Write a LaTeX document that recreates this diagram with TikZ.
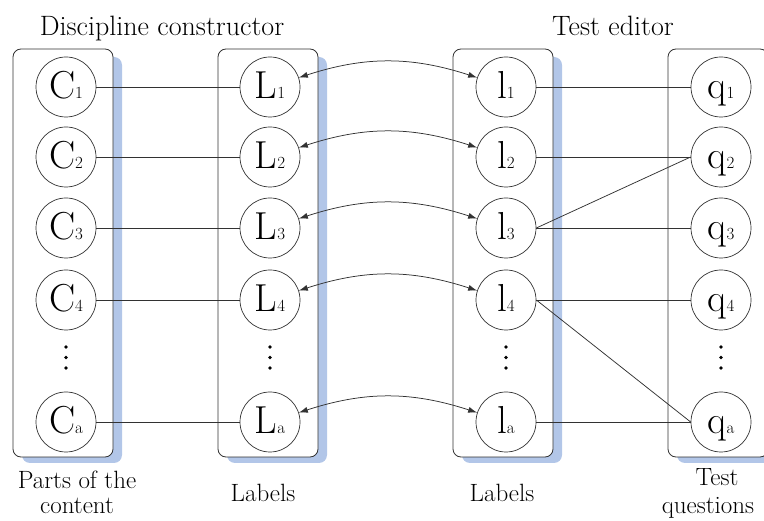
\documentclass[tikz,border=0pt]{standalone}
\usepackage{fontspec}
\usetikzlibrary{arrows.meta}
\definecolor{shadowblue}{RGB}{178,198,232}
\definecolor{linegray}{RGB}{50,50,50}
\newcommand\subidx[1]{{\fontsize{17}{17}\selectfont #1}}
\begin{document}
\begin{tikzpicture}[x=1pt,y=-1pt,
  colbox/.style={draw=linegray, fill=white, rounded corners=8pt, line width=0.8pt},
  shadowbox/.style={fill=shadowblue, rounded corners=8pt},
  vnode/.style={circle, draw=linegray, fill=white, line width=0.7pt, minimum size=60pt, inner sep=0pt, text height=27pt, text depth=3pt, font=\fontsize{39}{39}\selectfont},
  link/.style={draw=linegray, line width=0.75pt},
  dual/.style={link, {Latex[length=9pt,width=6pt]}-{Latex[length=9pt,width=6pt]}},
  head/.style={font=\fontsize{28}{32}\selectfont, anchor=base, inner sep=0pt},
  foot/.style={font=\fontsize{25}{29}\selectfont, anchor=base, inner sep=0pt},
  dot/.style={circle, fill=black, inner sep=0pt, minimum size=3.6pt}
]
\useasboundingbox (0,0) rectangle (764,521);

% column boxes with shadows
\foreach \xa/\xb in {13/113, 218/318, 453/553, 668/768}{
  \fill[shadowbox] (\xa+9,49+8) rectangle (\xb+9,457+6);
  \draw[colbox] (\xa,49) rectangle (\xb,457);
}

% nodes
\foreach \n/\y in {1/87, 2/157, 3/228, 4/300, a/422}{
  \node[vnode] (C\n) at (66,\y) {C\subidx{\n}};
  \node[vnode] (L\n) at (270,\y) {L\subidx{\n}};
  \node[vnode] (l\n) at (506,\y) {l\subidx{\n}};
  \node[vnode] (q\n) at (721,\y) {q\subidx{\n}};
}

% vertical ellipses
\foreach \c/\x in {C/66, L/270, l/506, q/721}{
  \node[dot] (\c d1) at (\x,347) {};
  \node[dot] (\c d2) at (\x,357.5) {};
  \node[dot] (\c d3) at (\x,368) {};
}

% connectors
\foreach \n in {1,2,3,4,a}{
  \draw[link] (C\n) -- (L\n);
  \draw[dual] (L\n) to[bend left=18] (l\n);
}
\draw[link] (l1) -- (q1);
\draw[link] (l2) -- (q2);
\draw[link] (l3.east) -- (q2.west);
\draw[link] (l3) -- (q3);
\draw[link] (l4) -- (q4);
\draw[link] (l4.east) -- (qa.west);
\draw[link] (la) -- (qa);

% titles
\node[head] (h1) at (162,36) {Discipline constructor};
\node[head] (h2) at (613,36) {Test editor};

\node[foot] (f1a) at (77,489) {Parts of the};
\node[foot] (f1b) at (77,514) {content};
\node[foot] (f2) at (263,502) {Labels};
\node[foot] (f3) at (502,502) {Labels};
\node[foot] (f4a) at (717,486) {Test};
\node[foot] (f4b) at (708,514) {questions};
\end{tikzpicture}
\end{document}
